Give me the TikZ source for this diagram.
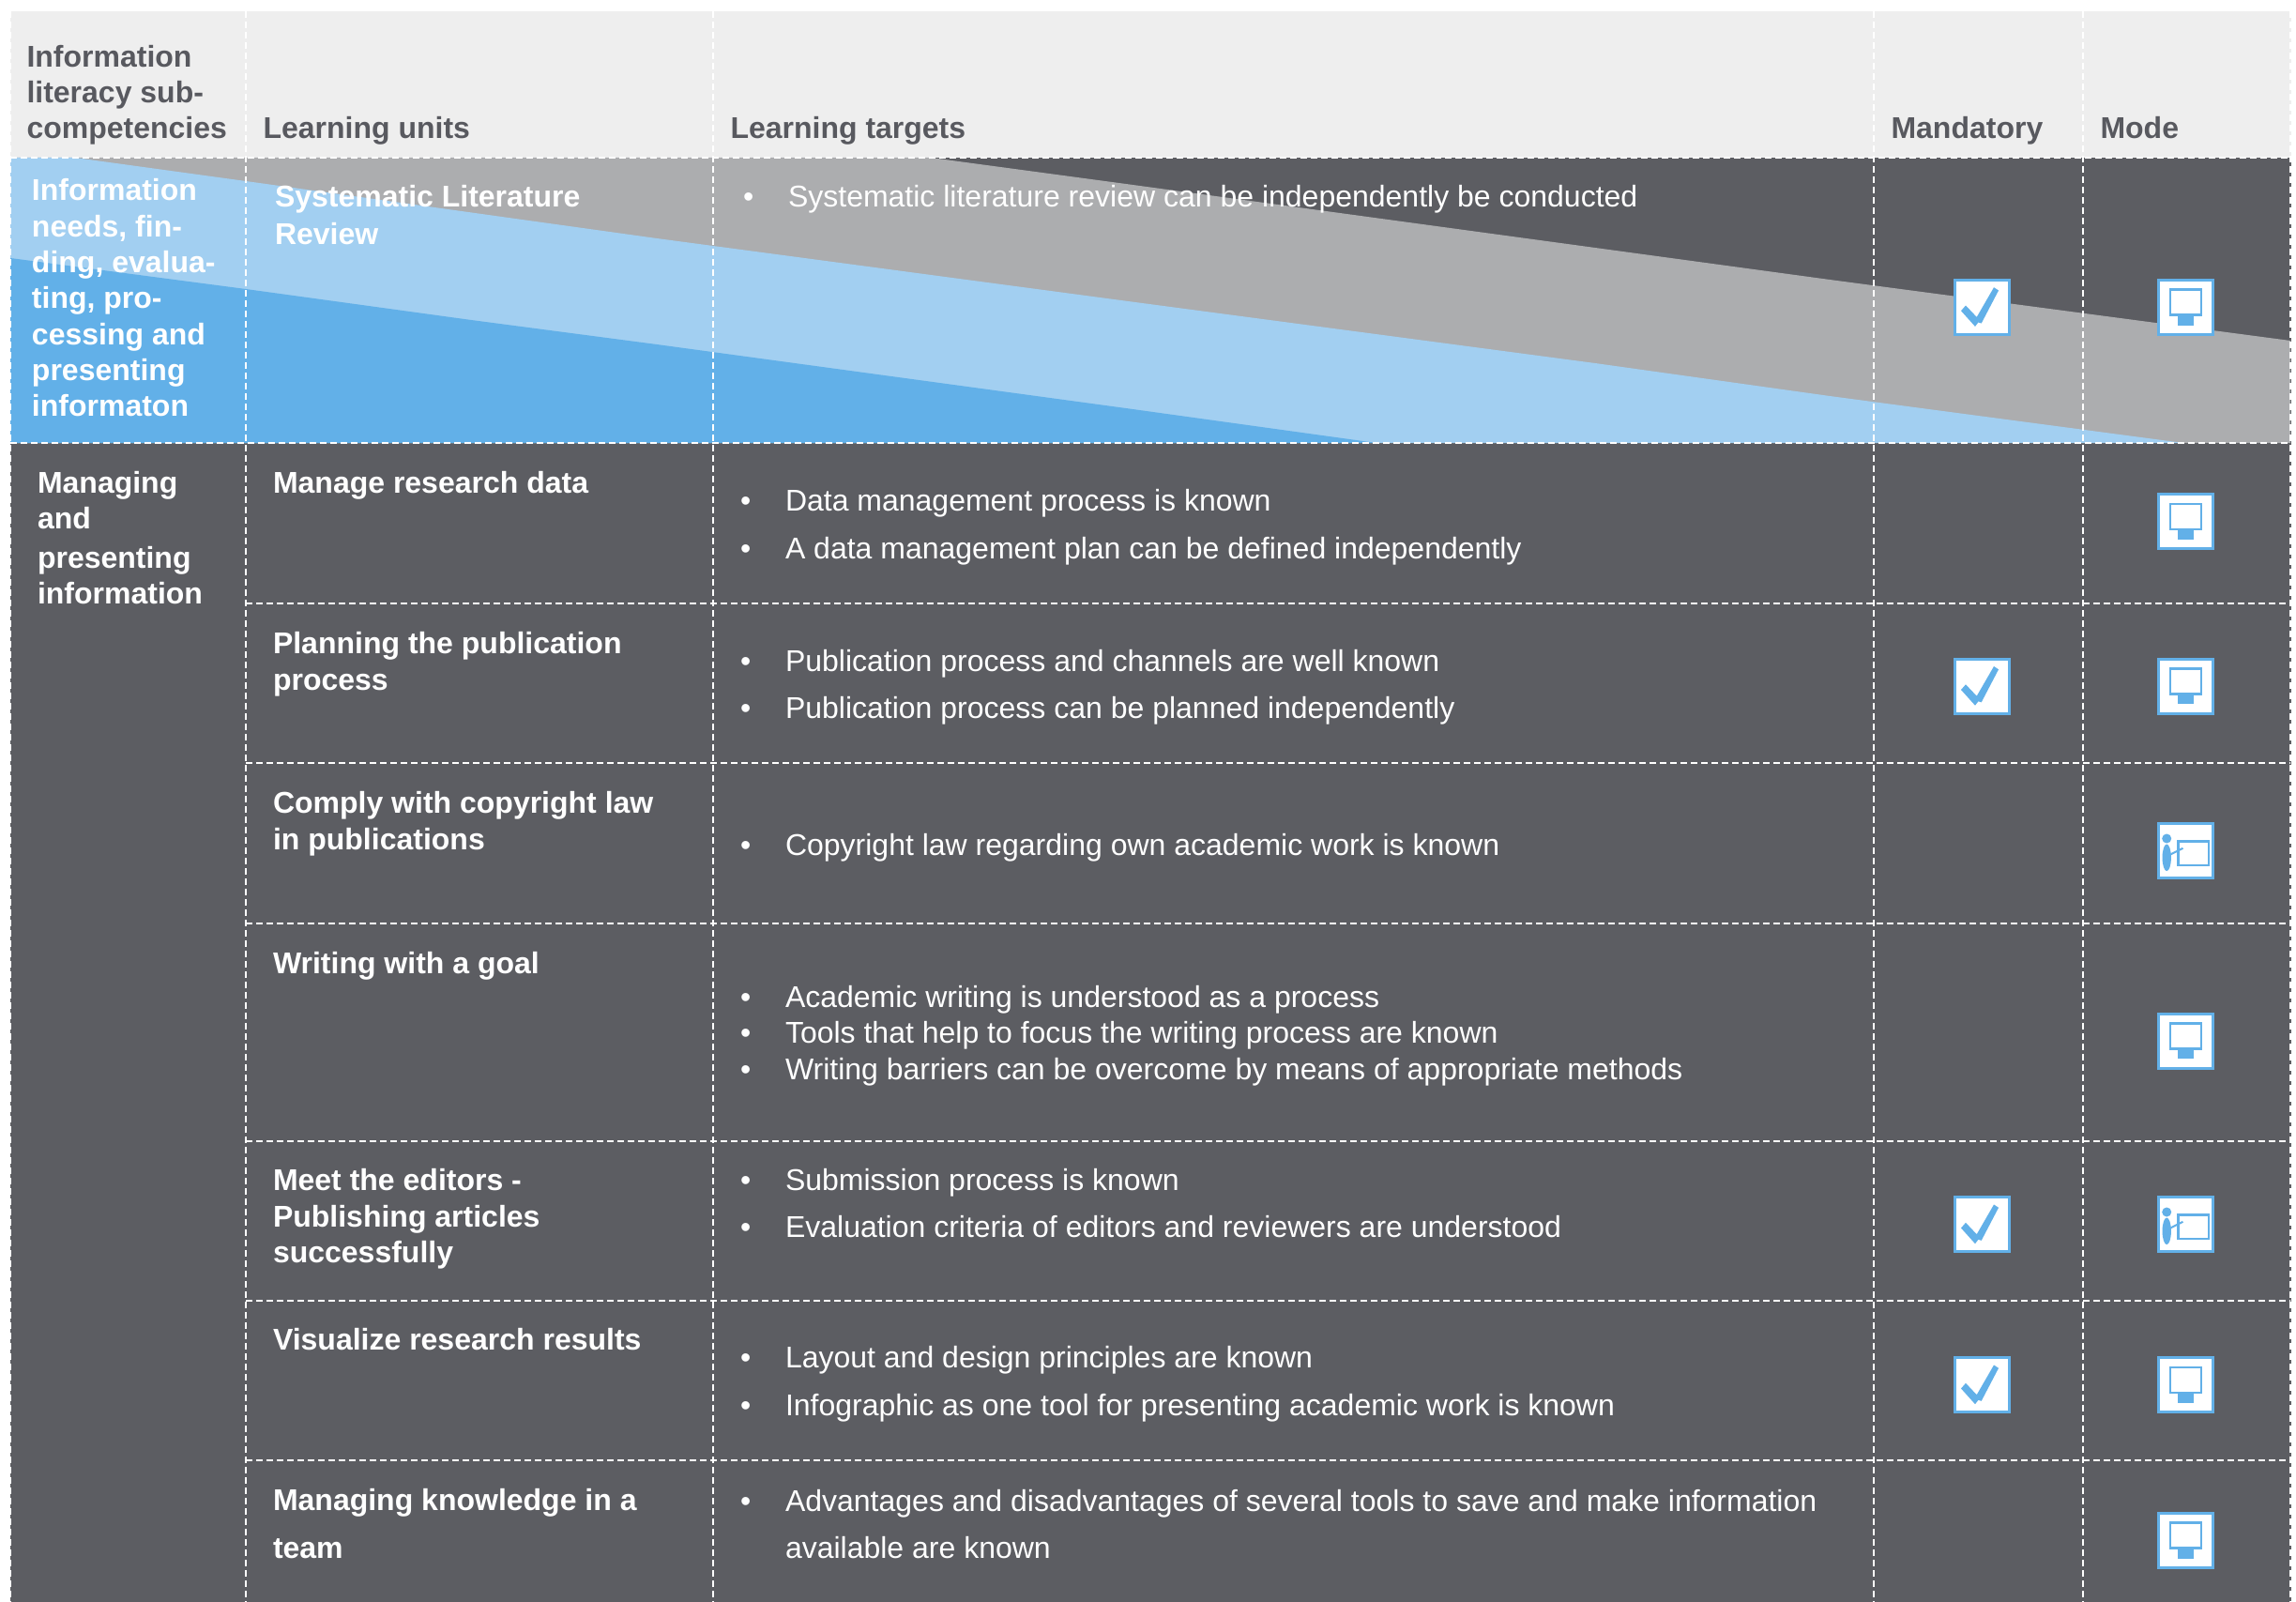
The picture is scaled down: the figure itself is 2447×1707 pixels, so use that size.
\documentclass[tikz,border=0pt]{standalone}
\usepackage{fontspec}
\setmainfont{Liberation Sans}
\definecolor{darkbg}{HTML}{5C5D62}
\definecolor{headbg}{HTML}{EEEEEE}
\definecolor{headtx}{HTML}{58595F}
\definecolor{bandgray}{HTML}{ACADAF}
\definecolor{bandlight}{HTML}{A2CFF1}
\definecolor{bandblue}{HTML}{62B0E8}
\tikzset{
  base txt/.style={inner sep=0pt,outer sep=0pt,anchor=base west,font=\fontsize{32pt}{38pt}\selectfont},
  hd/.style={base txt,text=headtx,font=\fontsize{32pt}{38pt}\selectfont\bfseries},
  bd/.style={base txt,text=white,font=\fontsize{32pt}{38pt}\selectfont\bfseries},
  tx/.style={base txt,text=white},
  grid/.style={white,line width=2.4pt,dash pattern=on 7pt off 4pt},
  iconbox/.style={draw=bandblue,fill=white,line width=3pt},
  pics/checkicon/.style={code={
    \draw[iconbox] (-29,-29) rectangle (29,29);
    \fill[bandblue] (-22.7,4) -- (-17.7,-1.7) -- (-6,10.7) -- (12.3,-21) -- (17.3,-17.7) -- (-1,17.3) -- (-4.3,16.3) -- (-7.7,20.7) -- cycle;
  }},
  pics/monitoricon/.style={code={
    \draw[iconbox] (-29,-29) rectangle (29,29);
    \fill[bandblue] (-8.5,9) rectangle (8.5,19.3);
    \draw[bandblue,line width=2.4pt] (-16.5,-18.7) rectangle (16.5,8.3);
  }},
  pics/teachicon/.style={code={
    \draw[iconbox] (-29,-29) rectangle (29,29);
    \fill[bandblue] (-20,-13) circle [radius=5pt];
    \fill[bandblue] (-20,7.3) ellipse [x radius=4.7pt,y radius=14.3pt];
    \draw[bandblue,line width=2pt] (-16,4) -- (-2.7,-2.7);
    \draw[bandblue,line width=2.4pt] (-7.7,-10) rectangle (25,15.7);
  }}
}
\newcommand\tl[5]{\node[#2] (#1) at (#3,#4) {#5};}
\newcommand\bul[3]{\node[tx] (#1) at (#2,#3) {•};}
\begin{document}
\begin{tikzpicture}[x=1pt,y=-1pt]
\useasboundingbox (0,0) rectangle (2447,1707);
\fill[white] (0,0) rectangle (2447,1707);
\fill[headbg] (11,12) rectangle (2442,168);
\fill[darkbg] (11,168) rectangle (2442,1707);
% diagonal bands of the first row
\fill[bandgray] (992,168) -- (1200,196) -- (1700,264) -- (1950,298) -- (2441,363) -- (2441,472) -- (11,472) -- (11,168) -- cycle;
\fill[bandlight] (80,168) -- (262,193) -- (700,254) -- (1200,320.7) -- (1700,387) -- (1950,422) -- (2327,472) -- (11,472) -- (11,168) -- cycle;
\fill[bandblue] (11,275) -- (262,308) -- (500,340.7) -- (700,367) -- (1200,435) -- (1467,472) -- (11,472) -- cycle;
% grid
\foreach \gx in {262,760,1997,2220}{\draw[grid] (\gx,12) -- (\gx,1707);}
\foreach \gy in {168,472}{\draw[grid] (11,\gy) -- (2441,\gy);}
\foreach \gy in {643,813,984,1216,1386,1556}{\draw[grid] (262,\gy) -- (2441,\gy);}
\draw[grid] (11,12) -- (11,1707);
\draw[grid] (2441,12) -- (2441,1707);
% header
\tl{h1a}{hd}{28.5}{71.5}{Information}
\tl{h1b}{hd}{28.5}{109.5}{literacy sub-}
\tl{h1c}{hd}{28.5}{147.5}{competencies}
\tl{h2}{hd}{280.5}{147.5}{Learning units}
\tl{h3}{hd}{778.5}{147.5}{Learning targets}
\tl{h4}{hd}{2015.5}{147.5}{Mandatory}
\tl{h5}{hd}{2238.5}{147.5}{Mode}
% first column
\tl{c1a}{bd}{34}{213.5}{Information}
\tl{c1b}{bd}{34}{252}{needs, fin-}
\tl{c1c}{bd}{34}{290}{ding, evalua-}
\tl{c1d}{bd}{34}{328}{ting, pro-}
\tl{c1e}{bd}{34}{367}{cessing and}
\tl{c1f}{bd}{34}{405}{presenting}
\tl{c1g}{bd}{34}{443.5}{informaton}
\tl{c2a}{bd}{40}{525.7}{Managing}
\tl{c2b}{bd}{40}{563.5}{and}
\tl{c2c}{bd}{40}{605.5}{presenting}
\tl{c2d}{bd}{40}{643.5}{information}
% learning units
\tl{u1a}{bd}{293}{221}{Systematic Literature}
\tl{u1b}{bd}{293}{260}{Review}
\tl{u2}{bd}{291}{525.5}{Manage research data}
\tl{u3a}{bd}{291}{696.3}{Planning the publication}
\tl{u3b}{bd}{291}{735.3}{process}
\tl{u4a}{bd}{291}{866.7}{Comply with copyright law}
\tl{u4b}{bd}{291}{905.7}{in publications}
\tl{u5}{bd}{291}{1037}{Writing with a goal}
\tl{u6a}{bd}{291}{1268}{Meet the editors -}
\tl{u6b}{bd}{291}{1307}{Publishing articles}
\tl{u6c}{bd}{291}{1345.5}{successfully}
\tl{u7}{bd}{291}{1438.5}{Visualize research results}
\tl{u8a}{bd}{291}{1609.5}{Managing knowledge in a}
\tl{u8b}{bd}{291}{1660}{team}
% learning targets
\bul{b1}{792}{221}
\tl{t1}{tx}{840}{221}{Systematic literature review can be independently be conducted}
\bul{b2a}{789}{544}
\tl{t2a}{tx}{837}{544}{Data management process is known}
\bul{b2b}{789}{595}
\tl{t2b}{tx}{837}{595}{A data management plan can be defined independently}
\bul{b3a}{789}{715}
\tl{t3a}{tx}{837}{715}{Publication process and channels are well known}
\bul{b3b}{789}{765}
\tl{t3b}{tx}{837}{765}{Publication process can be planned independently}
\bul{b4}{789}{911}
\tl{t4}{tx}{837}{911}{Copyright law regarding own academic work is known}
\bul{b5a}{789}{1073}
\tl{t5a}{tx}{837}{1073}{Academic writing is understood as a process}
\bul{b5b}{789}{1111.5}
\tl{t5b}{tx}{837}{1111.5}{Tools that help to focus the writing process are known}
\bul{b5c}{789}{1150}
\tl{t5c}{tx}{837}{1150}{Writing barriers can be overcome by means of appropriate methods}
\bul{b6a}{789}{1268}
\tl{t6a}{tx}{837}{1268}{Submission process is known}
\bul{b6b}{789}{1318}
\tl{t6b}{tx}{837}{1318}{Evaluation criteria of editors and reviewers are understood}
\bul{b7a}{789}{1457}
\tl{t7a}{tx}{837}{1457}{Layout and design principles are known}
\bul{b7b}{789}{1508}
\tl{t7b}{tx}{837}{1508}{Infographic as one tool for presenting academic work is known}
\bul{b8}{789}{1610}
\tl{t8a}{tx}{837}{1610}{Advantages and disadvantages of several tools to save and make information}
\tl{t8b}{tx}{837}{1660}{available are known}
% icons
\pic at (2112.7,327.2) {checkicon};
\pic at (2329.2,327.2) {monitoricon};
\pic at (2329.2,555.6) {monitoricon};
\pic at (2112.7,731) {checkicon};
\pic at (2329.2,731) {monitoricon};
\pic at (2329.2,906.5) {teachicon};
\pic at (2329.2,1109) {monitoricon};
\pic at (2112.7,1304.5) {checkicon};
\pic at (2329.2,1304.5) {teachicon};
\pic at (2112.7,1475.5) {checkicon};
\pic at (2329.2,1475.5) {monitoricon};
\pic at (2329.2,1641.2) {monitoricon};
\end{tikzpicture}
\end{document}
